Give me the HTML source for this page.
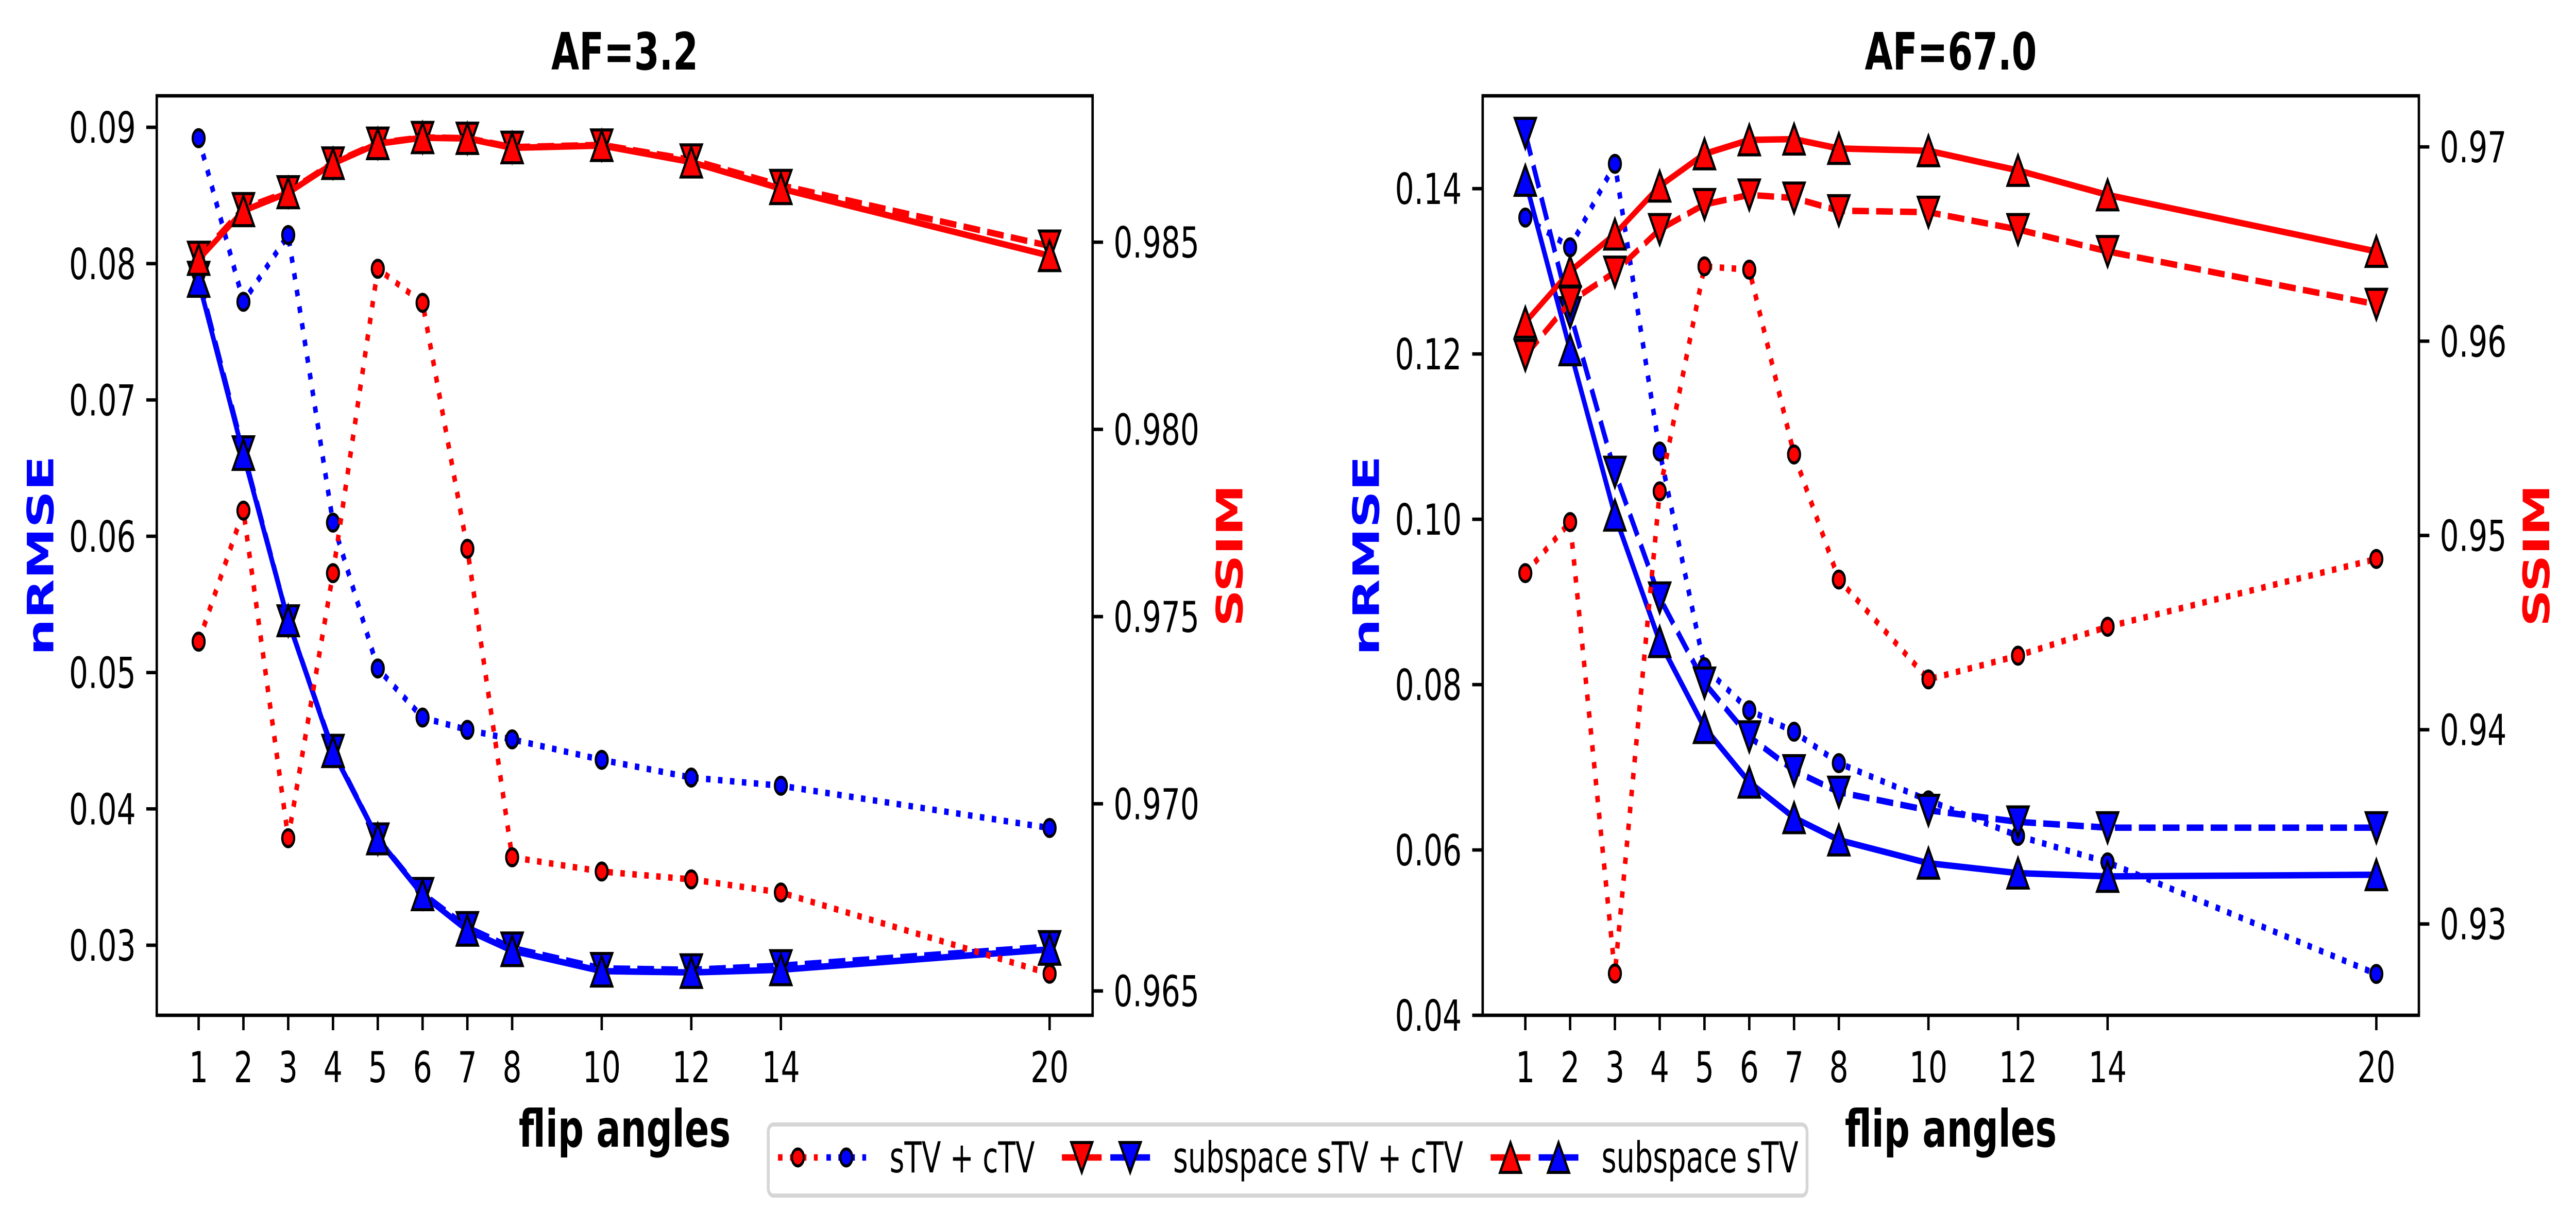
<!DOCTYPE html>
<html><head><meta charset="utf-8"><style>
html,body{margin:0;padding:0;background:#fff;width:7132px;height:2382px;overflow:hidden;}
svg{display:block;position:absolute;left:0;top:0;width:100vw;height:100vh;font-family:"DejaVu Sans","Liberation Sans",sans-serif;}
</style></head><body>
<svg id="fig" viewBox="0 0 7132 2382" preserveAspectRatio="none" xmlns="http://www.w3.org/2000/svg"></svg>
<script>
const flipAngles = [1,2,3,4,5,6,7,8,10,12,14,20];
// AF=3.2
const leftNrmseSTVcTV = [0.0892,0.0772,0.0821,0.0610,0.0503,0.0467,0.0458,0.0451,0.0436,0.0423,0.0417,0.0386];
const leftNrmseSubSTVcTV = [0.0790,0.0662,0.0538,0.0443,0.0378,0.0338,0.0313,0.0298,0.0283,0.0282,0.0285,0.0299];
const leftNrmseSubSTV = [0.0787,0.0660,0.0538,0.0442,0.0378,0.0337,0.0311,0.0296,0.0281,0.0280,0.0282,0.0297];
const leftSsimSTVcTV = [0.97433,0.97783,0.96908,0.97616,0.98429,0.98338,0.97681,0.96857,0.96819,0.96798,0.96763,0.96546];
const leftSsimSubSTVcTV = [0.98460,0.98590,0.98635,0.98712,0.98765,0.98780,0.98778,0.98754,0.98760,0.98720,0.98652,0.98490];
const leftSsimSubSTV = [0.98454,0.98584,0.98632,0.98710,0.98763,0.98779,0.98777,0.98752,0.98758,0.98714,0.98643,0.98464];
// AF=67.0
const rightNrmseSTVcTV = [0.1365,0.1329,0.1430,0.1082,0.0821,0.0769,0.0743,0.0705,0.0660,0.0617,0.0585,0.0450];
const rightNrmseSubSTVcTV = [0.1467,0.1250,0.1057,0.0905,0.0802,0.0737,0.0696,0.0670,0.0648,0.0634,0.0627,0.0627];
const rightNrmseSubSTV = [0.1410,0.1205,0.1005,0.0852,0.0748,0.0682,0.0639,0.0612,0.0584,0.0572,0.0568,0.0570];
const rightSsimSTVcTV = [0.94806,0.95069,0.92745,0.95227,0.96385,0.96368,0.95417,0.94773,0.94259,0.94381,0.94530,0.94879];
const rightSsimSubSTVcTV = [0.95927,0.96202,0.96356,0.96575,0.96704,0.96753,0.96737,0.96672,0.96664,0.96575,0.96462,0.96190];
const rightSsimSubSTV = [0.96097,0.96360,0.96551,0.96798,0.96964,0.97036,0.97040,0.96992,0.96980,0.96879,0.96753,0.96462];
const leftNrmseTicks = ["0.03","0.04","0.05","0.06","0.07","0.08","0.09"];
const leftSsimTicks = ["0.965","0.970","0.975","0.980","0.985"];
const rightNrmseTicks = ["0.04","0.06","0.08","0.10","0.12","0.14"];
const rightSsimTicks = ["0.93","0.94","0.95","0.96","0.97"];
const xTickLabels = ["1","2","3","4","5","6","7","8","10","12","14","20"];

const NS="http://www.w3.org/2000/svg";
const svg=document.getElementById('fig');
function mk(tag,attrs,parent){const e=document.createElementNS(NS,tag);for(const k in attrs)e.setAttribute(k,attrs[k]);(parent||svg).appendChild(e);return e;}
const RED="#ff0000",BLUE="#0000ff",LW=12.5;
const DOT=(LW*1)+","+(LW*1.65), DASH=(LW*3.7)+","+(LW*1.6);

function marker(g,type,x,y,color){
  let e;
  if(type==='o'){e=mk('circle',{cx:x,cy:y,r:16.5,fill:color,stroke:'#000','stroke-width':6},g);}
  else{const h=29;const pts=type==='^'?[[x,y-h],[x-h,y+h],[x+h,y+h]]:[[x,y+h],[x-h,y-h],[x+h,y-h]];
    e=mk('polygon',{points:pts.map(p=>p.join(',')).join(' '),fill:color,stroke:'#000','stroke-width':6,'stroke-linejoin':'miter'},g);}
  return e;
}

function panel(cfg){
  const {x0,x1,y0,y1,xmin,xmax,lmin,lmax,rmin,rmax}=cfg;
  const g=mk('g',{});
  
  
  const X=v=>x0+(v-xmin)/(xmax-xmin)*(x1-x0);
  const YL=v=>y1-(v-lmin)/(lmax-lmin)*(y1-y0);
  const YR=v=>y1-(v-rmin)/(rmax-rmin)*(y1-y0);
  const series=[
    {d:cfg.lS1,Y:YL,c:BLUE,m:'o',dash:DOT,n:'nrmse-stv-ctv'},
    {d:cfg.lS2,Y:YL,c:BLUE,m:'v',dash:DASH,n:'nrmse-subspace-stv-ctv'},
    {d:cfg.lS3,Y:YL,c:BLUE,m:'^',dash:'',n:'nrmse-subspace-stv'},
    {d:cfg.rS1,Y:YR,c:RED,m:'o',dash:DOT,n:'ssim-stv-ctv'},
    {d:cfg.rS2,Y:YR,c:RED,m:'v',dash:DASH,n:'ssim-subspace-stv-ctv'},
    {d:cfg.rS3,Y:YR,c:RED,m:'^',dash:'',n:'ssim-subspace-stv'}];
  const clip='clip-'+cfg.name;
  const cp=mk('clipPath',{id:clip},g);mk('rect',{x:x0,y:y0,width:x1-x0,height:y1-y0},cp);
  const plot=mk('g',{'clip-path':'url(#'+clip+')'},g);
  for(const s of series){
    const sg=mk('g',{},plot);
    
    
    const pts=flipAngles.map((f,i)=>X(f)+','+s.Y(s.d[i])).join(' ');
    const a={points:pts,fill:'none',stroke:s.c,'stroke-width':LW,'stroke-linejoin':'round'};
    if(s.dash)a['stroke-dasharray']=s.dash;
    const pl=mk('polyline',a,sg);
    
    
    flipAngles.forEach((f,i)=>{const m=marker(sg,s.m,X(f),s.Y(s.d[i]),s.c);
      
      });
  }
  const fr=mk('rect',{x:x0,y:y0,width:x1-x0,height:y1-y0,fill:'none',stroke:'#000','stroke-width':6.7},g);
  
  
  flipAngles.forEach((f,i)=>{const x=X(f);
    mk('line',{x1:x,x2:x,y1:y1,y2:y1+29,stroke:'#000','stroke-width':6.7},g);
    const t=mk('text',{x:x,y:y1+130,'text-anchor':'middle','font-size':83},g);t.textContent=xTickLabels[i];
    
    });
  cfg.lt.forEach(s=>{const y=YL(parseFloat(s));
    mk('line',{x1:x0-29,x2:x0,y1:y,y2:y,stroke:'#000','stroke-width':6.7},g);
    const t=mk('text',{x:x0-58,y:y+30,'text-anchor':'end','font-size':83},g);t.textContent=s;
    
    });
  cfg.rt.forEach(s=>{const y=YR(parseFloat(s));
    mk('line',{x1:x1,x2:x1+29,y1:y,y2:y,stroke:'#000','stroke-width':6.7},g);
    const t=mk('text',{x:x1+58,y:y+30,'text-anchor':'start','font-size':83},g);t.textContent=s;
    
    });
  const ti=mk('text',{x:(x0+x1)/2,y:135,'text-anchor':'middle','font-size':100,'font-weight':'bold'},g);ti.textContent=cfg.title;
  
  
  const xl=mk('text',{x:(x0+x1)/2,y:2226,'text-anchor':'middle','font-size':100,'font-weight':'bold'},g);xl.textContent='flip angles';
  
  
  const yc=(y0+y1)/2;
  const yl=mk('text',{x:cfg.ylx,y:yc,'text-anchor':'middle','font-size':100,'font-weight':'bold',fill:BLUE,transform:'rotate(-90 '+cfg.ylx+' '+yc+')'},g);yl.textContent='nRMSE';
  
  
  const yr=mk('text',{x:cfg.yrx,y:yc,'text-anchor':'middle','font-size':100,'font-weight':'bold',fill:RED,transform:'rotate(-90 '+cfg.yrx+' '+yc+')'},g);yr.textContent='SSIM';
  
  
}

panel({name:'panel-af-3-2',title:'AF=3.2',x0:434,x1:3025,y0:186,y1:1971,xmin:0.065,xmax:20.96,
  lmin:0.02486,lmax:0.09231,rmin:0.96435,rmax:0.98891,
  lS1:leftNrmseSTVcTV,lS2:leftNrmseSubSTVcTV,lS3:leftNrmseSubSTV,rS1:leftSsimSTVcTV,rS2:leftSsimSubSTVcTV,rS3:leftSsimSubSTV,
  lt:leftNrmseTicks,rt:leftSsimTicks,ylx:148,yrx:3440});
panel({name:'panel-af-67',title:'AF=67.0',x0:4105,x1:6697,y0:186,y1:1971,xmin:0.048,xmax:20.95,
  lmin:0.04,lmax:0.15123,rmin:0.9253,rmax:0.97263,
  lS1:rightNrmseSTVcTV,lS2:rightNrmseSubSTVcTV,lS3:rightNrmseSubSTV,rS1:rightSsimSTVcTV,rS2:rightSsimSubSTVcTV,rS3:rightSsimSubSTV,
  lt:rightNrmseTicks,rt:rightSsimTicks,ylx:3818,yrx:7058});

const lg=mk('g',{});


const lb=mk('rect',{x:2127,y:2183,width:2876,height:138,rx:14,fill:'#fff',stroke:'#d6d6d6','stroke-width':8},lg);


const entries=[{m:'o',rx:2209,bx:2343,tx:2463,tw:402,label:'sTV + cTV',n:'legend-entry-stv-ctv'},
  {m:'v',rx:2995,bx:3129,tx:3248,tw:803,label:'subspace sTV + cTV',n:'legend-entry-subspace-stv-ctv'},
  {m:'^',rx:4182,bx:4315,tx:4434,tw:545,label:'subspace sTV',n:'legend-entry-subspace-stv'}];
entries.forEach(e=>{
  const eg=mk('g',{},lg);
  
  
  const y=2247;
  [[e.rx,RED],[e.bx,BLUE]].forEach(([cx,c])=>{
    const a={x1:cx-55,x2:cx+55,y1:y,y2:y,stroke:c,'stroke-width':LW};
    if(e.m==='o')a['stroke-dasharray']=DOT;
    mk('line',a,eg);
    marker(eg,e.m,cx,y,c);
  });
  const t=mk('text',{x:e.tx,y:2276,'font-size':83,textLength:e.tw,lengthAdjust:'spacingAndGlyphs'},eg);t.textContent=e.label;
});
</script>
</body></html>
